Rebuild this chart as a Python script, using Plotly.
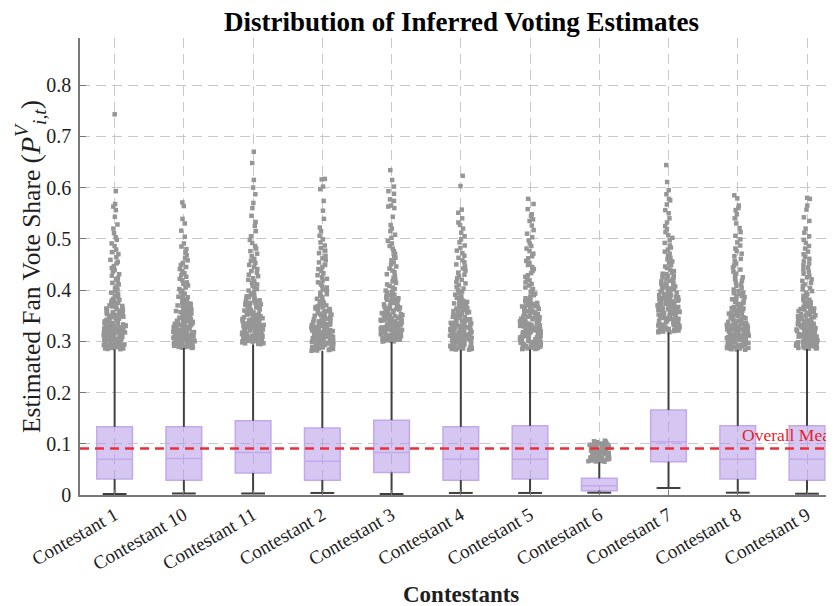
import plotly.graph_objects as go

categories = ["Contestant 1", "Contestant 10", "Contestant 11", "Contestant 2", "Contestant 3",
              "Contestant 4", "Contestant 5", "Contestant 6", "Contestant 7", "Contestant 8", "Contestant 9"]

q1 = [0.031, 0.029, 0.043, 0.029, 0.044, 0.029, 0.031, 0.0085, 0.065, 0.031, 0.029]
median = [0.070, 0.071, 0.083, 0.066, 0.083, 0.070, 0.070, 0.018, 0.104, 0.070, 0.070]
q3 = [0.133, 0.133, 0.145, 0.131, 0.146, 0.133, 0.135, 0.0325, 0.166, 0.135, 0.135]
lower_whisker = [0.002, 0.003, 0.003, 0.004, 0.002, 0.004, 0.004, 0.0045, 0.0137, 0.0045, 0.0025]
upper_whisker = [0.284, 0.287, 0.294, 0.281, 0.299, 0.283, 0.284, 0.064, 0.317, 0.283, 0.285]
overall_mean = 0.0909

out_c1 = [0.743, 0.593, 0.568, 0.563, 0.556, 0.543, 0.528, 0.520, 0.511, 0.503, 0.498, 0.491, 0.486, 0.479,
          0.474, 0.470, 0.464, 0.459, 0.455, 0.452, 0.447, 0.443, 0.439, 0.436, 0.431, 0.428, 0.424, 0.421,
          0.417, 0.414, 0.411, 0.407, 0.404, 0.401, 0.398, 0.395, 0.392, 0.389, 0.386, 0.383, 0.381, 0.378,
          0.375, 0.373, 0.370, 0.368, 0.365, 0.363, 0.361, 0.358, 0.356, 0.354, 0.352, 0.350, 0.347, 0.345,
          0.343, 0.341, 0.339, 0.337, 0.335, 0.333, 0.331, 0.329, 0.327, 0.325, 0.323, 0.321, 0.319, 0.317,
          0.316, 0.314, 0.312, 0.310, 0.309, 0.307, 0.305, 0.304, 0.302, 0.300, 0.299, 0.297, 0.296, 0.294,
          0.293, 0.291, 0.290, 0.288, 0.287, 0.285,
          0.286, 0.289, 0.292, 0.295, 0.298, 0.301, 0.303, 0.306, 0.308, 0.311, 0.313, 0.315, 0.318, 0.320,
          0.322, 0.324, 0.326, 0.328, 0.330, 0.332, 0.334, 0.336, 0.338, 0.340, 0.342, 0.344, 0.346, 0.348,
          0.351, 0.353, 0.355, 0.357, 0.360, 0.362, 0.364, 0.367, 0.369, 0.372, 0.376, 0.380,
          0.2846, 0.2861, 0.2877, 0.2893, 0.2908, 0.2924, 0.2939, 0.2955, 0.2971, 0.2987, 0.3003, 0.3019,
          0.3036, 0.3052, 0.3069, 0.3085, 0.3102, 0.3119, 0.3137, 0.3154, 0.3172, 0.3191, 0.3209, 0.3228,
          0.3248, 0.3268, 0.3289, 0.3311, 0.3334, 0.3358]
out_c10 = [0.571, 0.564, 0.539, 0.530, 0.516, 0.504, 0.491, 0.485, 0.480, 0.473, 0.468, 0.462, 0.458, 0.453,
           0.449, 0.445, 0.441, 0.437, 0.433, 0.429, 0.426, 0.422, 0.419, 0.415, 0.412, 0.409, 0.405, 0.402,
           0.399, 0.396, 0.393, 0.390, 0.387, 0.384, 0.382, 0.379, 0.376, 0.374, 0.371, 0.369, 0.366, 0.364,
           0.362, 0.359, 0.357, 0.355, 0.353, 0.351, 0.348, 0.346, 0.344, 0.342, 0.340, 0.338, 0.336, 0.334,
           0.332, 0.330, 0.328, 0.326, 0.324, 0.322, 0.320, 0.319, 0.317, 0.315, 0.313, 0.312, 0.310, 0.308,
           0.307, 0.305, 0.303, 0.302, 0.300, 0.299, 0.297, 0.296, 0.294, 0.293, 0.291, 0.290, 0.288, 0.287,
           0.289, 0.292, 0.295, 0.298, 0.301, 0.304, 0.306, 0.309, 0.311, 0.314, 0.316, 0.318, 0.321, 0.323,
           0.325, 0.327, 0.329, 0.331, 0.333, 0.335, 0.337, 0.339, 0.341, 0.343, 0.345, 0.347, 0.349, 0.352,
           0.354, 0.356, 0.358, 0.361, 0.363, 0.365, 0.368, 0.370, 0.373, 0.377, 0.381, 0.386,
           0.2876, 0.2891, 0.2907, 0.2922, 0.2938, 0.2954, 0.2969, 0.2985, 0.3001, 0.3017, 0.3033, 0.3049,
           0.3066, 0.3082, 0.3099, 0.3115, 0.3132, 0.3149, 0.3167, 0.3184, 0.3202, 0.3221, 0.3239, 0.3258,
           0.3278, 0.3298, 0.3319, 0.3341, 0.3364, 0.3388]
out_c11 = [0.670, 0.648, 0.615, 0.600, 0.587, 0.570, 0.560, 0.545, 0.533, 0.525, 0.515, 0.505, 0.498, 0.492,
           0.486, 0.481, 0.476, 0.471, 0.466, 0.461, 0.457, 0.453, 0.449, 0.445, 0.441, 0.437, 0.434, 0.430,
           0.427, 0.423, 0.420, 0.417, 0.414, 0.411, 0.408, 0.405, 0.402, 0.399, 0.396, 0.393, 0.391, 0.388,
           0.385, 0.383, 0.380, 0.378, 0.375, 0.373, 0.371, 0.368, 0.366, 0.364, 0.362, 0.360, 0.357, 0.355,
           0.353, 0.351, 0.349, 0.347, 0.345, 0.343, 0.341, 0.339, 0.337, 0.335, 0.333, 0.331, 0.329, 0.327,
           0.326, 0.324, 0.322, 0.320, 0.319, 0.317, 0.315, 0.314, 0.312, 0.310, 0.309, 0.307, 0.306, 0.304,
           0.303, 0.301, 0.300, 0.298, 0.297, 0.295,
           0.296, 0.299, 0.302, 0.305, 0.308, 0.311, 0.313, 0.316, 0.318, 0.321, 0.323, 0.325, 0.328, 0.330,
           0.332, 0.334, 0.336, 0.338, 0.340, 0.342, 0.344, 0.346, 0.348, 0.350, 0.352, 0.354, 0.356, 0.358,
           0.361, 0.363, 0.365, 0.367, 0.370, 0.372, 0.374, 0.377, 0.379, 0.382, 0.386, 0.390,
           0.2946, 0.2962, 0.2977, 0.2993, 0.3008, 0.3024, 0.3040, 0.3055, 0.3071, 0.3087, 0.3103, 0.3119,
           0.3136, 0.3152, 0.3169, 0.3186, 0.3203, 0.3220, 0.3237, 0.3255, 0.3273, 0.3291, 0.3310, 0.3329,
           0.3348, 0.3368, 0.3389, 0.3411, 0.3434, 0.3458]
out_c2 = [0.617, 0.616, 0.602, 0.597, 0.574, 0.555, 0.539, 0.522, 0.515, 0.506, 0.499, 0.493, 0.487, 0.482,
          0.477, 0.472, 0.467, 0.462, 0.458, 0.454, 0.449, 0.445, 0.441, 0.437, 0.433, 0.429, 0.425, 0.422,
          0.418, 0.415, 0.411, 0.408, 0.405, 0.401, 0.398, 0.395, 0.392, 0.389, 0.386, 0.383, 0.380, 0.377,
          0.375, 0.372, 0.369, 0.367, 0.364, 0.362, 0.359, 0.357, 0.355, 0.352, 0.350, 0.348, 0.345, 0.343,
          0.341, 0.339, 0.337, 0.335, 0.333, 0.331, 0.329, 0.327, 0.325, 0.323, 0.321, 0.319, 0.317, 0.315,
          0.313, 0.311, 0.310, 0.308, 0.306, 0.304, 0.303, 0.301, 0.299, 0.298, 0.296, 0.295, 0.293, 0.291,
          0.290, 0.288, 0.287, 0.285, 0.284, 0.282,
          0.283, 0.286, 0.289, 0.292, 0.294, 0.297, 0.300, 0.302, 0.305, 0.307, 0.309, 0.312, 0.314, 0.316,
          0.318, 0.320, 0.322, 0.324, 0.326, 0.328, 0.330, 0.332, 0.334, 0.336, 0.338, 0.340, 0.342, 0.344,
          0.347, 0.349, 0.351, 0.354, 0.356, 0.358, 0.361, 0.363, 0.366, 0.370, 0.374, 0.378,
          0.2816, 0.2831, 0.2847, 0.2862, 0.2878, 0.2894, 0.2909, 0.2925, 0.2941, 0.2957, 0.2973, 0.2989,
          0.3006, 0.3022, 0.3039, 0.3055, 0.3072, 0.3089, 0.3107, 0.3124, 0.3142, 0.3161, 0.3179, 0.3198,
          0.3218, 0.3238, 0.3259, 0.3281, 0.3304, 0.3328]
out_c3 = [0.634, 0.615, 0.602, 0.593, 0.588, 0.577, 0.574, 0.565, 0.563, 0.560, 0.543, 0.527, 0.520, 0.515,
          0.508, 0.502, 0.496, 0.491, 0.486, 0.481, 0.476, 0.471, 0.467, 0.463, 0.458, 0.454, 0.450, 0.446,
          0.442, 0.438, 0.435, 0.431, 0.428, 0.424, 0.421, 0.417, 0.414, 0.411, 0.408, 0.405, 0.402, 0.399,
          0.396, 0.393, 0.390, 0.388, 0.385, 0.382, 0.380, 0.377, 0.375, 0.372, 0.370, 0.368, 0.365, 0.363,
          0.361, 0.359, 0.356, 0.354, 0.352, 0.350, 0.348, 0.346, 0.344, 0.342, 0.340, 0.338, 0.336, 0.334,
          0.332, 0.330, 0.328, 0.326, 0.325, 0.323, 0.321, 0.319, 0.318, 0.316, 0.314, 0.313, 0.311, 0.309,
          0.308, 0.306, 0.305, 0.303, 0.302, 0.300,
          0.301, 0.304, 0.307, 0.310, 0.312, 0.315, 0.317, 0.320, 0.322, 0.324, 0.327, 0.329, 0.331, 0.333,
          0.335, 0.337, 0.339, 0.341, 0.343, 0.345, 0.347, 0.349, 0.351, 0.353, 0.355, 0.357, 0.360, 0.362,
          0.364, 0.366, 0.369, 0.371, 0.373, 0.376, 0.378, 0.381, 0.384, 0.387, 0.391, 0.395,
          0.2996, 0.3011, 0.3027, 0.3042, 0.3058, 0.3074, 0.3089, 0.3105, 0.3121, 0.3137, 0.3153, 0.3169,
          0.3186, 0.3202, 0.3219, 0.3235, 0.3252, 0.3269, 0.3287, 0.3304, 0.3322, 0.3341, 0.3359, 0.3378,
          0.3398, 0.3418, 0.3439, 0.3461, 0.3484, 0.3508]
out_c4 = [0.623, 0.603, 0.557, 0.551, 0.540, 0.532, 0.527, 0.520, 0.512, 0.505, 0.499, 0.493, 0.487, 0.482,
          0.477, 0.472, 0.467, 0.463, 0.458, 0.454, 0.450, 0.446, 0.442, 0.438, 0.434, 0.430, 0.427, 0.423,
          0.420, 0.416, 0.413, 0.410, 0.406, 0.403, 0.400, 0.397, 0.394, 0.391, 0.388, 0.385, 0.382, 0.379,
          0.377, 0.374, 0.371, 0.369, 0.366, 0.364, 0.361, 0.359, 0.356, 0.354, 0.352, 0.349, 0.347, 0.345,
          0.343, 0.341, 0.339, 0.337, 0.335, 0.333, 0.331, 0.329, 0.327, 0.325, 0.323, 0.321, 0.319, 0.317,
          0.315, 0.313, 0.312, 0.310, 0.308, 0.306, 0.305, 0.303, 0.301, 0.300, 0.298, 0.296, 0.295, 0.293,
          0.292, 0.290, 0.289, 0.287, 0.286, 0.284,
          0.285, 0.288, 0.291, 0.294, 0.297, 0.299, 0.302, 0.304, 0.307, 0.309, 0.311, 0.314, 0.316, 0.318,
          0.320, 0.322, 0.324, 0.326, 0.328, 0.330, 0.332, 0.334, 0.336, 0.338, 0.340, 0.342, 0.344, 0.346,
          0.348, 0.350, 0.353, 0.355, 0.357, 0.360, 0.362, 0.365, 0.368, 0.371, 0.375, 0.379,
          0.2836, 0.2851, 0.2867, 0.2882, 0.2898, 0.2914, 0.2929, 0.2945, 0.2961, 0.2977, 0.2993, 0.3009,
          0.3026, 0.3042, 0.3059, 0.3075, 0.3092, 0.3109, 0.3127, 0.3144, 0.3162, 0.3181, 0.3199, 0.3218,
          0.3238, 0.3258, 0.3279, 0.3301, 0.3324, 0.3348]
out_c5 = [0.578, 0.568, 0.558, 0.548, 0.545, 0.538, 0.535, 0.526, 0.517, 0.510, 0.503, 0.497, 0.491, 0.486,
          0.481, 0.476, 0.471, 0.466, 0.462, 0.457, 0.453, 0.449, 0.445, 0.441, 0.437, 0.433, 0.429, 0.426,
          0.422, 0.419, 0.415, 0.412, 0.409, 0.405, 0.402, 0.399, 0.396, 0.393, 0.390, 0.387, 0.384, 0.381,
          0.378, 0.376, 0.373, 0.370, 0.368, 0.365, 0.363, 0.360, 0.358, 0.356, 0.353, 0.351, 0.349, 0.347,
          0.344, 0.342, 0.340, 0.338, 0.336, 0.334, 0.332, 0.330, 0.328, 0.326, 0.324, 0.322, 0.320, 0.318,
          0.317, 0.315, 0.313, 0.311, 0.310, 0.308, 0.306, 0.305, 0.303, 0.301, 0.300, 0.298, 0.297, 0.295,
          0.294, 0.292, 0.291, 0.289, 0.288, 0.286, 0.285,
          0.2865, 0.2895, 0.2925, 0.2955, 0.2985, 0.3015, 0.304, 0.307, 0.309, 0.312, 0.314, 0.316, 0.319,
          0.321, 0.323, 0.325, 0.327, 0.329, 0.331, 0.333, 0.335, 0.337, 0.339, 0.341, 0.343, 0.345, 0.346,
          0.348, 0.350, 0.352, 0.355, 0.357, 0.359, 0.362, 0.364, 0.367, 0.369, 0.372, 0.375, 0.380,
          0.2848, 0.2863, 0.2878, 0.2894, 0.2909, 0.2925, 0.2941, 0.2956, 0.2972, 0.2988, 0.3004, 0.3021,
          0.3037, 0.3053, 0.3070, 0.3087, 0.3104, 0.3121, 0.3138, 0.3156, 0.3174, 0.3192, 0.3211, 0.3230,
          0.3249, 0.3269, 0.3290, 0.3312, 0.3335, 0.3359]
out_c6 = [0.106, 0.105, 0.104, 0.103, 0.101, 0.0995, 0.099, 0.098, 0.0972, 0.096, 0.095, 0.0945, 0.093,
          0.092, 0.0912, 0.090, 0.089, 0.0885, 0.087, 0.086, 0.0855, 0.084, 0.083, 0.0823, 0.081, 0.080,
          0.0795, 0.078, 0.077, 0.0765, 0.075, 0.074, 0.0735, 0.072, 0.071, 0.0705, 0.069, 0.068, 0.0675,
          0.066, 0.065,
          0.0655, 0.0665, 0.0685, 0.0695, 0.0715, 0.0725, 0.0745, 0.0755, 0.0775, 0.0785, 0.0805, 0.0815,
          0.0835, 0.0845, 0.0865, 0.0875, 0.0895, 0.0905, 0.0925, 0.0935, 0.0955, 0.0965, 0.0985, 0.1005,
          0.0678]
out_c7 = [0.644, 0.611, 0.595, 0.587, 0.578, 0.575, 0.567, 0.556, 0.550, 0.540, 0.532, 0.525, 0.519, 0.513,
          0.507, 0.502, 0.497, 0.492, 0.487, 0.483, 0.479, 0.475, 0.471, 0.467, 0.463, 0.460, 0.456, 0.453,
          0.449, 0.446, 0.443, 0.440, 0.437, 0.434, 0.431, 0.428, 0.425, 0.422, 0.420, 0.417, 0.414, 0.412,
          0.409, 0.407, 0.404, 0.402, 0.399, 0.397, 0.395, 0.392, 0.390, 0.388, 0.386, 0.384, 0.381, 0.379,
          0.377, 0.375, 0.373, 0.371, 0.369, 0.367, 0.365, 0.363, 0.361, 0.359, 0.357, 0.355, 0.354, 0.352,
          0.350, 0.348, 0.346, 0.345, 0.343, 0.341, 0.339, 0.338, 0.336, 0.334, 0.333, 0.331, 0.329, 0.328,
          0.326, 0.325, 0.323, 0.322, 0.320, 0.318,
          0.319, 0.321, 0.324, 0.327, 0.330, 0.332, 0.335, 0.337, 0.340, 0.342, 0.344, 0.347, 0.349, 0.351,
          0.353, 0.356, 0.358, 0.360, 0.362, 0.364, 0.366, 0.368, 0.370, 0.372, 0.374, 0.376, 0.378, 0.380,
          0.383, 0.385, 0.387, 0.389, 0.391, 0.394, 0.396, 0.398, 0.401, 0.403, 0.406, 0.410, 0.413, 0.418,
          0.423, 0.427, 0.432,
          0.3176, 0.3192, 0.3208, 0.3225, 0.3241, 0.3258, 0.3274, 0.3291, 0.3308, 0.3325, 0.3343, 0.3361,
          0.3379, 0.3397, 0.3416, 0.3435, 0.3454, 0.3474, 0.3494, 0.3515, 0.3536, 0.3558, 0.3580, 0.3603,
          0.3627, 0.3652, 0.3677, 0.3704, 0.3732, 0.3761, 0.3792, 0.3825, 0.3860, 0.3898]
out_c8 = [0.585, 0.579, 0.565, 0.560, 0.556, 0.548, 0.540, 0.530, 0.521, 0.513, 0.506, 0.499, 0.493, 0.487,
          0.481, 0.476, 0.471, 0.466, 0.461, 0.457, 0.452, 0.448, 0.444, 0.440, 0.436, 0.432, 0.428, 0.425,
          0.421, 0.418, 0.414, 0.411, 0.408, 0.404, 0.401, 0.398, 0.395, 0.392, 0.389, 0.386, 0.383, 0.380,
          0.378, 0.375, 0.372, 0.370, 0.367, 0.365, 0.362, 0.360, 0.357, 0.355, 0.353, 0.350, 0.348, 0.346,
          0.344, 0.342, 0.339, 0.337, 0.335, 0.333, 0.331, 0.329, 0.327, 0.325, 0.323, 0.321, 0.319, 0.318,
          0.316, 0.314, 0.312, 0.310, 0.309, 0.307, 0.305, 0.304, 0.302, 0.300, 0.299, 0.297, 0.296, 0.294,
          0.292, 0.291, 0.289, 0.288, 0.286, 0.284,
          0.285, 0.287, 0.290, 0.293, 0.295, 0.298, 0.301, 0.303, 0.306, 0.308, 0.311, 0.313, 0.315, 0.317,
          0.320, 0.322, 0.324, 0.326, 0.328, 0.330, 0.332, 0.334, 0.336, 0.338, 0.341, 0.343, 0.345, 0.347,
          0.349, 0.352, 0.354, 0.356, 0.359, 0.361, 0.364, 0.366, 0.369, 0.373, 0.377, 0.382, 0.388, 0.394,
          0.2835, 0.2849, 0.2866, 0.2881, 0.2897, 0.2913, 0.2928, 0.2944, 0.2960, 0.2976, 0.2992, 0.3008,
          0.3025, 0.3041, 0.3058, 0.3074, 0.3091, 0.3108, 0.3126, 0.3143, 0.3161, 0.3180, 0.3198, 0.3217,
          0.3237, 0.3257, 0.3278, 0.3300, 0.3323, 0.3347]
out_c9 = [0.580, 0.578, 0.565, 0.557, 0.542, 0.535, 0.520, 0.512, 0.505, 0.498, 0.492, 0.486, 0.481, 0.475,
          0.470, 0.465, 0.461, 0.456, 0.452, 0.448, 0.444, 0.440, 0.436, 0.432, 0.428, 0.425, 0.421, 0.418,
          0.414, 0.411, 0.408, 0.404, 0.401, 0.398, 0.395, 0.392, 0.389, 0.386, 0.383, 0.380, 0.377, 0.375,
          0.372, 0.369, 0.367, 0.364, 0.362, 0.359, 0.357, 0.354, 0.352, 0.350, 0.347, 0.345, 0.343, 0.341,
          0.339, 0.336, 0.334, 0.332, 0.330, 0.328, 0.326, 0.324, 0.322, 0.321, 0.319, 0.317, 0.315, 0.313,
          0.311, 0.310, 0.308, 0.306, 0.305, 0.303, 0.301, 0.300, 0.298, 0.297, 0.295, 0.294, 0.292, 0.290,
          0.289, 0.287, 0.286,
          0.2865, 0.2885, 0.291, 0.2935, 0.296, 0.299, 0.302, 0.304, 0.307, 0.309, 0.312, 0.314, 0.316,
          0.318, 0.320, 0.323, 0.325, 0.327, 0.329, 0.331, 0.333, 0.335, 0.337, 0.338, 0.340, 0.342, 0.344,
          0.346, 0.349, 0.351, 0.353, 0.355, 0.358, 0.360, 0.363, 0.365, 0.368, 0.371, 0.376, 0.381,
          0.2855, 0.2871, 0.2886, 0.2902, 0.2917, 0.2933, 0.2949, 0.2964, 0.2980, 0.2996, 0.3012, 0.3028,
          0.3045, 0.3061, 0.3078, 0.3094, 0.3111, 0.3128, 0.3146, 0.3163, 0.3181, 0.3200, 0.3218, 0.3237,
          0.3257, 0.3277, 0.3298, 0.3320, 0.3343, 0.3367]

outliers = [out_c1, out_c10, out_c11, out_c2, out_c3, out_c4, out_c5, out_c6, out_c7, out_c8, out_c9]
yticks = [0, 0.1, 0.2, 0.3, 0.4, 0.5, 0.6, 0.7, 0.8]
yticklabels = ["0", "0.1", "0.2", "0.3", "0.4", "0.5", "0.6", "0.7", "0.8"]

SERIF = "Times New Roman, Liberation Serif, serif"
DARK = "rgb(64,64,64)"
BOX_W = 0.515

pts_x, pts_y = [], []
for cat, vals in zip(categories, outliers):
    pts_x += [cat] * len(vals)
    pts_y += vals

fig = go.Figure()

# boxes (no whiskers)
fig.add_trace(go.Box(
    x=categories, q1=q1, median=median, q3=q3, lowerfence=q1, upperfence=q3,
    width=BOX_W, whiskerwidth=0, boxpoints=False,
    fillcolor="rgba(176,146,230,0.52)", line=dict(color="rgb(194,170,234)", width=1.5),
    hoverinfo="skip", showlegend=False,
))

# outliers with jitter
fig.add_trace(go.Box(
    x=pts_x, y=pts_y, boxpoints="all", jitter=0.62, pointpos=0, width=BOX_W,
    fillcolor="rgba(0,0,0,0)", line=dict(width=0), whiskerwidth=0,
    marker=dict(color="rgb(150,150,150)", size=4.5, symbol="square"),
    hoverinfo="skip", showlegend=False,
))

# lower whiskers
fig.add_trace(go.Scatter(
    x=categories, y=q1, mode="markers", marker=dict(size=1, opacity=0),
    error_y=dict(type="data", symmetric=False, array=[0] * len(q1),
                 arrayminus=[a - b for a, b in zip(q1, lower_whisker)],
                 color=DARK, thickness=2, width=0),
    hoverinfo="skip", showlegend=False,
))
# upper whiskers
fig.add_trace(go.Scatter(
    x=categories, y=q3, mode="markers", marker=dict(size=1, opacity=0),
    error_y=dict(type="data", symmetric=False,
                 array=[b - a for a, b in zip(q3, upper_whisker)],
                 arrayminus=[0] * len(q3), color=DARK, thickness=2, width=0),
    hoverinfo="skip", showlegend=False,
))
# lower caps
fig.add_trace(go.Scatter(
    x=categories, y=lower_whisker, mode="markers",
    marker=dict(symbol="line-ew", size=17, line=dict(color=DARK, width=2)),
    hoverinfo="skip", showlegend=False,
))

fig.add_shape(type="line", xref="paper", x0=0, x1=1, yref="y", y0=overall_mean, y1=overall_mean,
              line=dict(color="rgb(232,48,58)", width=2.5, dash="9px,6px"))
fig.add_annotation(xref="paper", x=(740 - 80) / 754, y=overall_mean, yref="y", text="Overall Mean",
                   showarrow=False, xanchor="left", yanchor="bottom", yshift=1,
                   font=dict(family=SERIF, size=17.5, color="rgb(230,30,40)"))

fig.add_annotation(xref="paper", yref="paper", x=(462 - 80) / 754, y=(495 - 22) / 457,
                   text="<b>Distribution of Inferred Voting Estimates</b>", showarrow=False,
                   xanchor="center", yanchor="middle", font=dict(family=SERIF, size=27, color="black"))
fig.add_annotation(xref="paper", yref="paper", x=(461 - 80) / 754, y=(495 - 594) / 457,
                   text="<b>Contestants</b>", showarrow=False,
                   xanchor="center", yanchor="middle", font=dict(family=SERIF, size=23, color="rgb(30,30,30)"))
fig.add_annotation(xref="paper", yref="paper", x=(30 - 80) / 754, y=(495 - 267) / 457,
                   text=("Estimated Fan Vote Share <span style='font-size:28px'>(<i>P</i>"
                         "<sup><i>V</i></sup><sub><i>i,t</i></sub>)</span>"),
                   textangle=-90, showarrow=False,
                   xanchor="center", yanchor="middle", font=dict(family=SERIF, size=25.5, color="rgb(30,30,30)"))

grid = "rgb(200,200,200)"
# page body has an 8px margin: figure is shrunk by 8px so it fits the 834x606 window
fig.update_layout(
    width=826, height=598,
    margin=dict(l=72, r=0, t=30, b=111),
    paper_bgcolor="white", plot_bgcolor="white",
    showlegend=False, boxmode="overlay",
    font=dict(family=SERIF, color="rgb(30,30,30)"),
    xaxis=dict(
        type="category", categoryorder="array", categoryarray=categories,
        range=[-0.5, 10.39], showgrid=True, gridcolor=grid, griddash="10px,6px", gridwidth=1,
        showline=True, linecolor="rgb(120,120,120)", linewidth=1.5,
        ticks="inside", ticklen=5, tickcolor="rgb(120,120,120)",
        tickangle=-30, tickfont=dict(family=SERIF, size=19, color="rgb(30,30,30)"),
        zeroline=False, fixedrange=True,
    ),
    yaxis=dict(
        range=[0, 0.892], tickvals=yticks, ticktext=yticklabels,
        showgrid=True, gridcolor=grid, griddash="10px,6px", gridwidth=1,
        showline=True, linecolor="rgb(120,120,120)", linewidth=1.5,
        ticks="inside", ticklen=6, tickcolor="rgb(120,120,120)", ticklabelstandoff=3,
        tickfont=dict(family=SERIF, size=20, color="rgb(30,30,30)"),
        zeroline=False, fixedrange=True,
    ),
)

fig.write_html("out.html")
